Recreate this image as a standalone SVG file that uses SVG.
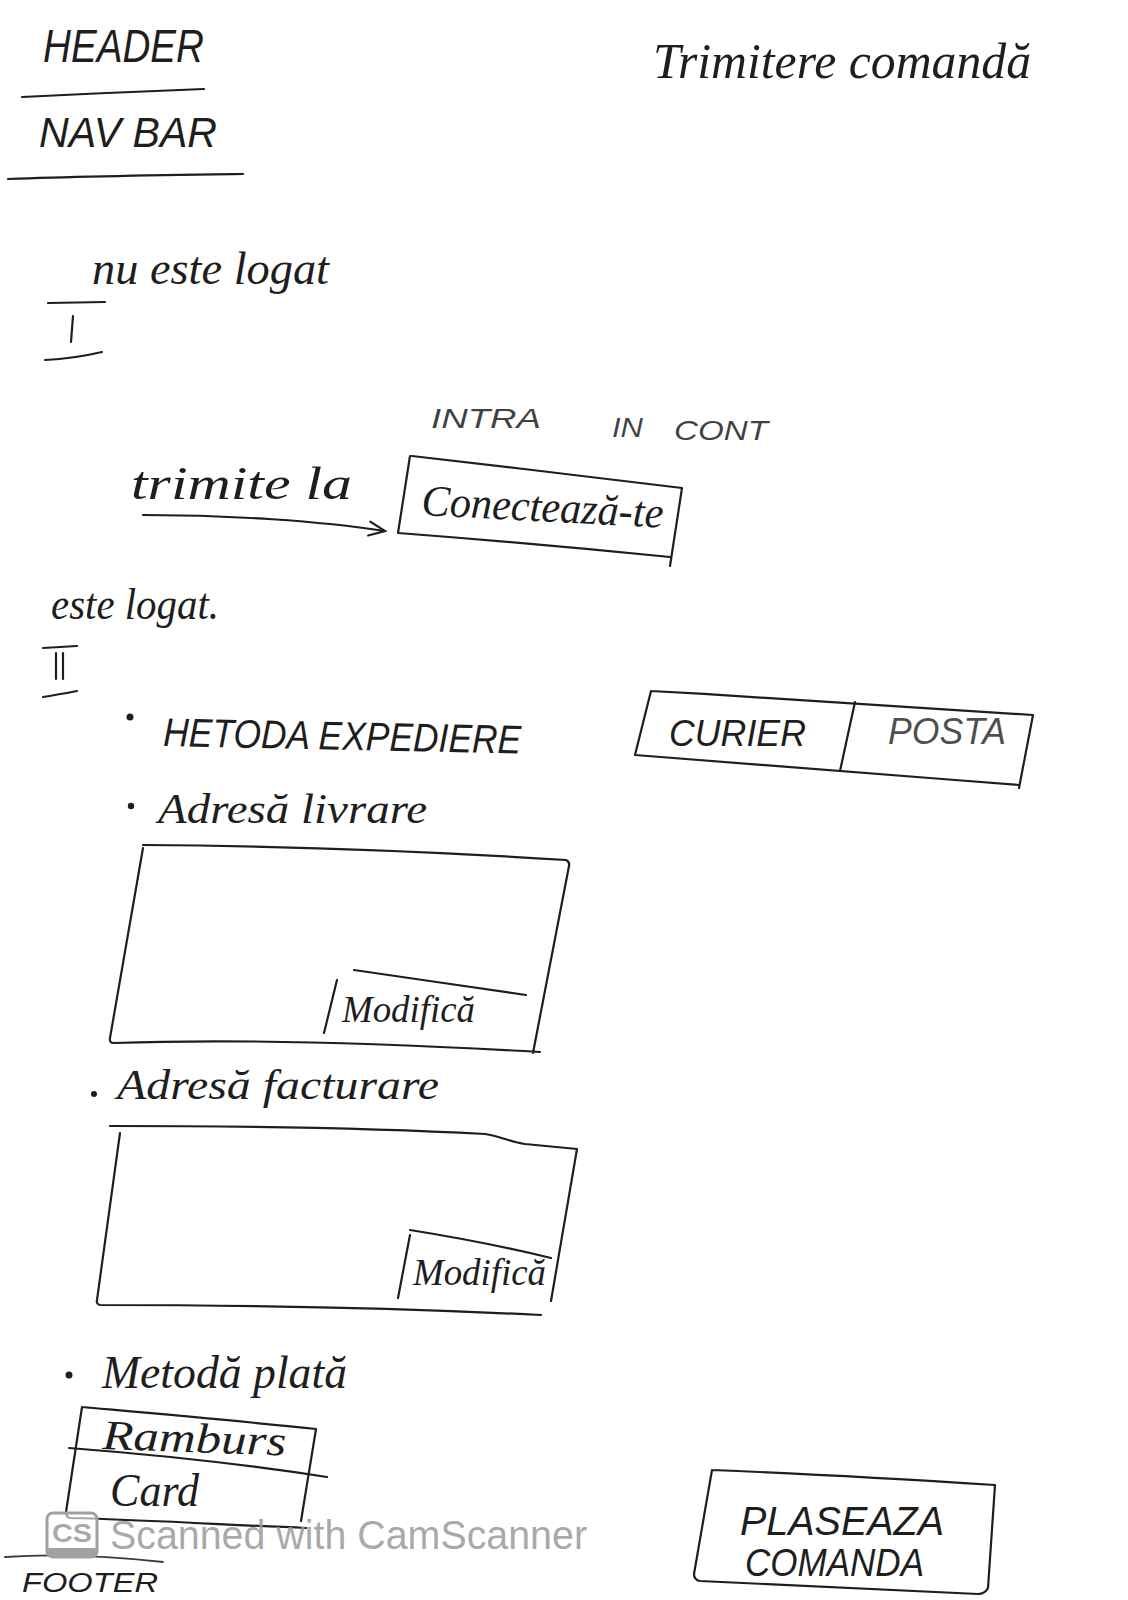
<svg xmlns="http://www.w3.org/2000/svg" width="1128" height="1600" viewBox="0 0 1128 1600">
  <style>
    .ink { fill: none; stroke: #1e1e1e; stroke-width: 2.2; stroke-linecap: round; stroke-linejoin: round; }
    .pale { fill: none; stroke: #3a3a3a; stroke-width: 1.8; stroke-linecap: round; stroke-linejoin: round; }
    .caps { font-family: "Liberation Sans", "DejaVu Sans", sans-serif; font-style: italic; fill: #1e1e1e; }
    .hand { font-family: "Liberation Serif", "DejaVu Serif", serif; font-style: italic; fill: #1e1e1e; }
    .dot { fill: #1e1e1e; }
    .mark { font-family: "Liberation Sans", "Roboto", sans-serif; fill: #9a9a9a; fill-opacity: 0.85; }
  </style>
  <defs>
    <marker id="open-head" viewBox="0 0 20 20" refX="18" refY="10" markerWidth="20" markerHeight="20" markerUnits="userSpaceOnUse" orient="auto">
      <path d="M2,3 L18,10 L2,17" fill="none" stroke="#1e1e1e" stroke-width="2.2" stroke-linecap="round"/>
    </marker>
  </defs>

  <rect width="1128" height="1600" fill="#ffffff"/>

  <!-- page header area -->
  <g id="header">
    <text class="caps" x="43" y="62" font-size="46" textLength="161" lengthAdjust="spacingAndGlyphs">HEADER</text>
    <path class="ink" d="M22,97 C80,94 150,91 204,89"/>
  </g>
  <g id="nav-bar">
    <text class="caps" x="39" y="147" font-size="42" textLength="178" lengthAdjust="spacingAndGlyphs">NAV BAR</text>
    <path class="ink" d="M8,179 C90,176 170,175 243,174"/>
  </g>
  <g id="page-title">
    <text class="hand" x="653" y="78" font-size="50" textLength="378" lengthAdjust="spacingAndGlyphs">Trimitere comandă</text>
  </g>

  <!-- case I: visitor not logged in -->
  <g id="case-1">
    <text class="hand" x="92" y="284" font-size="46" textLength="237" lengthAdjust="spacingAndGlyphs">nu este logat</text>
    <path class="ink" d="M48,303 L105,302"/>
    <path class="ink" d="M73,316 L71,342"/>
    <path class="ink" d="M45,360 C65,359 85,356 102,352"/>
  </g>
  <g id="redirect-label">
    <text class="hand" x="131" y="499" font-size="46" textLength="221" lengthAdjust="spacingAndGlyphs">trimite la</text>
  </g>
  <g id="login-button">
    <text class="caps" font-size="28" fill-opacity="0.85"><tspan x="431" y="428" textLength="110" lengthAdjust="spacingAndGlyphs">INTRA</tspan><tspan x="612" y="437" textLength="31" lengthAdjust="spacingAndGlyphs">IN</tspan><tspan x="674" y="440" textLength="94" lengthAdjust="spacingAndGlyphs">CONT</tspan></text>
    <path class="ink" d="M412,456 C500,466 600,478 682,488 L670,566 M670,557 C580,548 490,540 398,533 L410,456"/>
    <text class="hand" x="421" y="515" font-size="44" textLength="242" lengthAdjust="spacingAndGlyphs" transform="rotate(3 421 515)">Conectează-te</text>
  </g>

  <!-- case II: user logged in -->
  <g id="case-2">
    <text class="hand" x="51" y="619" font-size="44" textLength="168" lengthAdjust="spacingAndGlyphs">este logat.</text>
    <path class="ink" d="M43,648 L77,646"/>
    <path class="ink" d="M56,653 L56,679 M63,653 L63,679"/>
    <path class="ink" d="M43,697 C55,695 66,693 77,691"/>
  </g>
  <g id="shipping-method">
    <circle class="dot" cx="130" cy="717" r="3.5"/>
    <text class="caps" x="163" y="746" font-size="40" textLength="358" lengthAdjust="spacingAndGlyphs" transform="rotate(1.2 163 746)">HETODA EXPEDIERE</text>
  </g>
  <g id="shipping-options">
    <path class="ink" d="M651,691 C780,698 910,707 1033,715 L1019,788 M1019,785 C890,775 760,764 635,755 L651,691"/>
    <path class="ink" d="M855,702 L840,771"/>
    <text class="caps" x="669" y="746" font-size="36" textLength="137" lengthAdjust="spacingAndGlyphs">CURIER</text>
    <text class="caps" x="888" y="744" font-size="36" textLength="118" lengthAdjust="spacingAndGlyphs" fill-opacity="0.8">POSTA</text>
  </g>

  <g id="delivery-address">
    <circle class="dot" cx="131" cy="806" r="3.2"/>
    <text class="hand" x="158" y="823" font-size="42" textLength="269" lengthAdjust="spacingAndGlyphs">Adresă livrare</text>
    <path class="ink" d="M143,845 C290,846 440,852 566,860 Q570,862 569,866 L533,1053 M540,1052 C400,1044 250,1038 114,1043 Q109,1043 110,1038 L143,848"/>
    <path class="ink" d="M354,970 C410,978 470,987 526,995"/>
    <path class="ink" d="M337,980 L324,1033"/>
    <text class="hand" x="342" y="1022" font-size="38" textLength="133" lengthAdjust="spacingAndGlyphs">Modifică</text>
  </g>

  <g id="billing-address">
    <circle class="dot" cx="94" cy="1094" r="3"/>
    <text class="hand" x="117" y="1099" font-size="42" textLength="322" lengthAdjust="spacingAndGlyphs">Adresă facturare</text>
    <path class="ink" d="M110,1126 C240,1126 370,1128 485,1134 C500,1136 510,1142 525,1144 L577,1149 L551,1301 M541,1315 C400,1308 250,1305 100,1305 Q96,1304 97,1300 L120,1133"/>
    <path class="ink" d="M410,1230 C460,1238 510,1248 551,1258"/>
    <path class="ink" d="M410,1235 L398,1298"/>
    <text class="hand" x="413" y="1285" font-size="38" textLength="133" lengthAdjust="spacingAndGlyphs">Modifică</text>
  </g>

  <g id="payment-method">
    <circle class="dot" cx="69" cy="1375" r="3.5"/>
    <text class="hand" x="102" y="1388" font-size="46" textLength="245" lengthAdjust="spacingAndGlyphs">Metodă plată</text>
    <path class="ink" d="M82,1407 C160,1414 240,1421 316,1429 L301,1521 M306,1528 C230,1525 150,1520 70,1518 Q66,1517 66,1512 L82,1407"/>
    <path class="ink" d="M69,1448 C160,1455 250,1465 327,1477"/>
    <text class="hand" x="102" y="1449" font-size="42" textLength="184" lengthAdjust="spacingAndGlyphs" transform="rotate(2 102 1449)">Ramburs</text>
    <text class="hand" x="110" y="1506" font-size="46" textLength="89" lengthAdjust="spacingAndGlyphs">Card</text>
  </g>

  <g id="place-order-button">
    <path class="ink" d="M712,1470 C810,1474 900,1479 995,1485 L988,1588 Q985,1594 978,1594 C880,1590 790,1585 700,1581 Q694,1580 694,1574 L712,1470"/>
    <text class="caps" x="740" y="1535" font-size="40" textLength="204" lengthAdjust="spacingAndGlyphs">PLASEAZA</text>
    <text class="caps" x="745" y="1576" font-size="38" textLength="179" lengthAdjust="spacingAndGlyphs">COMANDA</text>
  </g>

  <g id="footer">
    <path class="pale" d="M5,1557 C60,1553 110,1556 163,1562"/>
    <text class="caps" x="22" y="1592" font-size="27" textLength="136" lengthAdjust="spacingAndGlyphs">FOOTER</text>
  </g>

  <!-- scanner watermark -->
  <g id="watermark">
    <rect x="47" y="1513" width="50" height="44" rx="6" fill="#ffffff" fill-opacity="0.6" stroke="#a0a0a0" stroke-width="3"/>
    <rect x="47" y="1548" width="50" height="9" rx="3" fill="#a0a0a0"/>
    <text class="mark" x="52" y="1542" font-size="26" font-weight="bold" textLength="40" lengthAdjust="spacingAndGlyphs">CS</text>
    <text class="mark" x="110" y="1549" font-size="40" textLength="477" lengthAdjust="spacingAndGlyphs">Scanned with CamScanner</text>
  </g>

  <!-- connectors -->
  <g id="connectors">
    <path class="ink" d="M143,515 C230,515 320,521 385,531" marker-end="url(#open-head)"/>
  </g>
</svg>
